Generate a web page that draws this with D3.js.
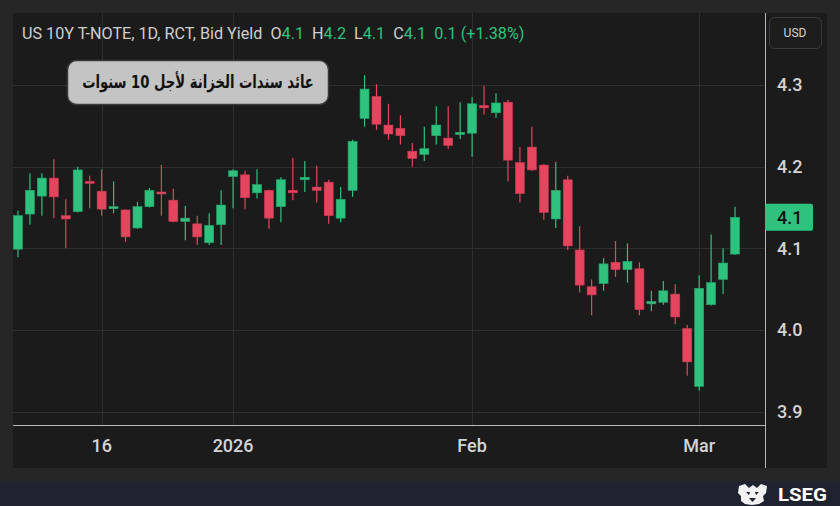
<!DOCTYPE html>
<html>
<head>
<meta charset="utf-8">
<script src="https://cdn.jsdelivr.net/npm/d3@7"></script>
<style>
  html, body { margin: 0; padding: 0; background: #262626; }
  svg { display: block; }
</style>
</head>
<body>
<div id="chart"></div>
<script>
"use strict";

// == DATA ==
var dates = [
  "2025-12-05","2025-12-08","2025-12-09","2025-12-10","2025-12-11","2025-12-12","2025-12-15",
  "2025-12-16","2025-12-17","2025-12-18","2025-12-19","2025-12-22","2025-12-23","2025-12-24",
  "2025-12-26","2025-12-29","2025-12-30","2025-12-31",
  "2026-01-02","2026-01-05","2026-01-06","2026-01-07","2026-01-08","2026-01-09","2026-01-12",
  "2026-01-13","2026-01-14","2026-01-15","2026-01-16","2026-01-20","2026-01-21","2026-01-22",
  "2026-01-23","2026-01-26","2026-01-27","2026-01-28","2026-01-29","2026-01-30",
  "2026-02-02","2026-02-03","2026-02-04","2026-02-05","2026-02-06","2026-02-09","2026-02-10",
  "2026-02-11","2026-02-12","2026-02-13","2026-02-17","2026-02-18","2026-02-19","2026-02-20",
  "2026-02-23","2026-02-24","2026-02-25","2026-02-26","2026-02-27",
  "2026-03-02","2026-03-03","2026-03-04","2026-03-05"
];

var opens = [4.099,4.142,4.164,4.186,4.140,4.145,4.182,4.170,4.150,4.147,4.125,4.151,4.169,4.159,
  4.133,4.130,4.107,4.129,4.188,4.190,4.168,4.171,4.151,4.171,4.184,4.175,4.181,4.137,4.171,
  4.259,4.286,4.251,4.247,4.219,4.215,4.238,4.235,4.240,4.241,4.275,4.266,4.279,4.205,4.224,
  4.202,4.136,4.184,4.098,4.053,4.057,4.083,4.074,4.075,4.032,4.034,4.044,4.002,3.931,4.031,
  4.062,4.093];
var highs = [4.146,4.192,4.192,4.209,4.160,4.200,4.189,4.197,4.182,4.148,4.157,4.174,4.202,4.173,
  4.152,4.140,4.143,4.171,4.197,4.195,4.197,4.172,4.187,4.211,4.207,4.201,4.184,4.175,4.233,
  4.312,4.301,4.277,4.263,4.229,4.249,4.274,4.274,4.279,4.285,4.299,4.290,4.282,4.224,4.249,
  4.203,4.206,4.189,4.127,4.062,4.088,4.109,4.106,4.083,4.048,4.060,4.056,4.006,4.067,4.117,
  4.100,4.151];
var lows = [4.089,4.129,4.140,4.137,4.100,4.144,4.149,4.140,4.143,4.108,4.124,4.150,4.140,4.132,
  4.110,4.104,4.104,4.104,4.149,4.148,4.161,4.124,4.132,4.159,4.169,4.156,4.130,4.132,4.163,
  4.249,4.245,4.233,4.227,4.200,4.207,4.227,4.222,4.234,4.212,4.264,4.260,4.182,4.156,4.195,
  4.135,4.125,4.098,4.046,4.018,4.048,4.065,4.058,4.018,4.023,4.031,4.007,3.944,3.926,4.030,
  4.044,4.092];
var closes = [4.140,4.171,4.186,4.163,4.136,4.196,4.180,4.148,4.151,4.114,4.151,4.171,4.168,4.133,
  4.137,4.114,4.128,4.153,4.195,4.162,4.178,4.137,4.184,4.168,4.187,4.171,4.140,4.160,4.231,
  4.295,4.252,4.240,4.238,4.210,4.222,4.251,4.226,4.242,4.277,4.272,4.278,4.208,4.167,4.196,
  4.144,4.171,4.103,4.055,4.043,4.081,4.074,4.084,4.025,4.035,4.048,4.016,3.961,4.051,4.058,
  4.082,4.138];

var yTicks = [3.9, 4.0, 4.1, 4.2, 4.3];
var xTickDates = ["2025-12-16", "2026-01-02", "2026-02-02", "2026-03-02"];
var xTickLabels = ["16", "2026", "Feb", "Mar"];

var title = "US 10Y T-NOTE, 1D, RCT, Bid Yield";
var ohlcLabels = ["O", "H", "L", "C"];
var ohlcValues = ["4.1", "4.2", "4.1", "4.1"];
var changeText = "0.1 (+1.38%)";
var boxTitle = "عائد سندات الخزانة لأجل 10 سنوات";
var lastLabel = "4.1";

// == BOILERPLATE ==
var W = 840, H = 506;
var plot = { left: 13, top: 13, right: 765, bottom: 425 };
var green = "#2ec27e", red = "#e5455f";

var svg = d3.select("#chart")
  .append("svg")
  .attr("width", W)
  .attr("height", H);

var data = dates.map(function (d, i) {
  return { date: d, o: opens[i], h: highs[i], l: lows[i], c: closes[i] };
});

// squeeze a text node to a target width
var fitWidth = function (sel, width, tx, ty) {
  var w = sel.node().getComputedTextLength();
  sel.attr("transform", "translate(" + tx + "," + ty + ") scale(" + (width / w) + ",1)");
};

// backgrounds
svg.append("rect").attr("width", W).attr("height", H).attr("fill", "#262626");
svg.append("rect")
  .attr("x", 13).attr("y", 13).attr("width", 814).attr("height", 455)
  .attr("fill", "#1b1b1b");
svg.append("rect")
  .attr("x", 0).attr("y", 481).attr("width", W).attr("height", 25)
  .attr("fill", "#1f2330");

// scales
var x = d3.scaleBand()
  .domain(dates)
  .range([12, 741])
  .padding(0);

var y = d3.scaleLinear()
  .domain([3.9, 4.3])
  .range([411.7, 85]);

// grid
svg.append("g").selectAll("line")
  .data(yTicks)
  .enter().append("line")
  .attr("x1", plot.left).attr("x2", plot.right)
  .attr("y1", function (d) { return Math.round(y(d)) + 0.5; })
  .attr("y2", function (d) { return Math.round(y(d)) + 0.5; })
  .attr("stroke", "#2f2f2f");

svg.append("g").selectAll("line")
  .data(xTickDates)
  .enter().append("line")
  .attr("y1", plot.top).attr("y2", plot.bottom)
  .attr("x1", function (d) { return Math.round(x(d) + x.bandwidth() / 2) + 0.5; })
  .attr("x2", function (d) { return Math.round(x(d) + x.bandwidth() / 2) + 0.5; })
  .attr("stroke", "#2f2f2f");

// candles
var bodyW = 9;
var candles = svg.append("g").selectAll("g")
  .data(data)
  .enter().append("g")
  .attr("transform", function (d) {
    return "translate(" + (x(d.date) + x.bandwidth() / 2) + ",0)";
  });

candles.append("line")
  .attr("y1", function (d) { return y(d.h); })
  .attr("y2", function (d) { return y(d.l); })
  .attr("stroke", function (d) { return d.c >= d.o ? green : red; })
  .attr("stroke-width", 1.2);

candles.append("rect")
  .attr("x", -bodyW / 2)
  .attr("width", bodyW)
  .attr("y", function (d) { return y(Math.max(d.o, d.c)); })
  .attr("height", function (d) { return Math.max(2, Math.abs(y(d.o) - y(d.c))); })
  .attr("fill", function (d) { return d.c >= d.o ? green : red; })
  .attr("stroke", function (d) { return d.c >= d.o ? "#25a86b" : "#c73a52"; })
  .attr("stroke-width", 0.6);

// separators
svg.append("line")
  .attr("x1", plot.left).attr("x2", plot.right)
  .attr("y1", plot.bottom + 0.5).attr("y2", plot.bottom + 0.5)
  .attr("stroke", "#b8b8b8");
svg.append("line")
  .attr("x1", plot.right + 0.5).attr("x2", plot.right + 0.5)
  .attr("y1", 13).attr("y2", 468)
  .attr("stroke", "#b8b8b8");

// axes
var yAxis = d3.axisRight(y)
  .tickValues(yTicks)
  .tickFormat(d3.format(".1f"))
  .tickSize(0)
  .tickPadding(12);

var gy = svg.append("g")
  .attr("transform", "translate(" + plot.right + ",0)")
  .call(yAxis);
gy.select(".domain").remove();
gy.selectAll("text")
  .attr("fill", "#d4d4d4")
  .attr("font-family", "Roboto, sans-serif")
  .attr("font-size", "18px")
  .attr("font-weight", "500");

var xAxis = d3.axisBottom(x)
  .tickValues(xTickDates)
  .tickFormat(function (d, i) { return xTickLabels[i]; })
  .tickSize(0);

var gx = svg.append("g")
  .attr("transform", "translate(0," + plot.bottom + ")")
  .call(xAxis);
gx.select(".domain").remove();
gx.selectAll("text")
  .attr("y", 21)
  .attr("dy", "0.35em")
  .attr("fill", "#d4d4d4")
  .attr("font-family", "Roboto, sans-serif")
  .attr("font-size", "18px")
  .attr("font-weight", "500");

// last price badge
var lastY = y(closes[closes.length - 1]);
svg.append("rect")
  .attr("x", 765).attr("y", lastY - 13.5)
  .attr("width", 48).attr("height", 27)
  .attr("rx", 2)
  .attr("fill", green);
svg.append("text")
  .attr("x", 777).attr("y", lastY)
  .attr("dy", "0.35em")
  .attr("fill", "#111")
  .attr("font-family", "Roboto, sans-serif")
  .attr("font-size", "18px")
  .attr("font-weight", "500")
  .text(lastLabel);

// USD button
svg.append("rect")
  .attr("x", 769.5).attr("y", 17.5)
  .attr("width", 52).attr("height", 31)
  .attr("rx", 5)
  .attr("fill", "#1d1d1d")
  .attr("stroke", "#3a3a3a");
svg.append("text")
  .attr("x", 795).attr("y", 33)
  .attr("dy", "0.35em")
  .attr("text-anchor", "middle")
  .attr("fill", "#d4d4d4")
  .attr("font-family", "Roboto, sans-serif")
  .attr("font-size", "12px")
  .text("USD");

// header legend
var head = svg.append("text")
  .attr("x", 0).attr("y", 0)
  .attr("dy", "0.35em")
  .attr("font-family", "Roboto, sans-serif")
  .attr("font-size", "16px")
  .style("white-space", "pre")
  .attr("fill", "#cfcfcf");
head.append("tspan").text(title);
ohlcLabels.forEach(function (l, i) {
  head.append("tspan").text("  " + l);
  head.append("tspan").attr("fill", green).text(ohlcValues[i]);
});
head.append("tspan").attr("fill", green).text("  " + changeText);
fitWidth(head, 503, 22, 33);

// arabic title box
svg.append("rect")
  .attr("x", 67.5).attr("y", 60.5)
  .attr("width", 261).attr("height", 44)
  .attr("rx", 9)
  .attr("fill", "#c4c4c4")
  .attr("stroke", "#3a3a3a")
  .attr("stroke-width", 1.5);
var tt = svg.append("text")
  .attr("direction", "rtl")
  .attr("text-anchor", "middle")
  .attr("x", 0).attr("y", 0)
  .attr("dy", "0.35em")
  .attr("fill", "#111")
  .attr("font-family", "'DejaVu Sans', sans-serif")
  .attr("font-size", "18px")
  .attr("font-weight", "bold")
  .text(boxTitle);
fitWidth(tt, 232, 198, 82);

// LSEG logo
var logo = svg.append("g").attr("transform", "translate(737,484)");
logo.append("path")
  .attr("d", "M2,2 L8,0 L12,4 L16,1 L20,4 L24,0 L30,2 L29,9 L26,12 L27,17 L22,20 L15,21 L8,20 L4,17 L4,12 L1,9 Z")
  .attr("fill", "#f2f2f2");
logo.append("path")
  .attr("d", "M9,8 L13,8 L12,11 Z M18,8 L22,8 L19,11 Z M12,14 L19,14 L15.5,18 Z")
  .attr("fill", "#1f2330");
var lseg = svg.append("text")
  .attr("x", 0).attr("y", 0)
  .attr("dy", "0.35em")
  .attr("fill", "#ffffff")
  .attr("font-family", "Roboto, sans-serif")
  .attr("font-size", "19px")
  .attr("font-weight", "bold")
  .text("LSEG");
fitWidth(lseg, 49, 778, 494);
</script>
</body>
</html>
